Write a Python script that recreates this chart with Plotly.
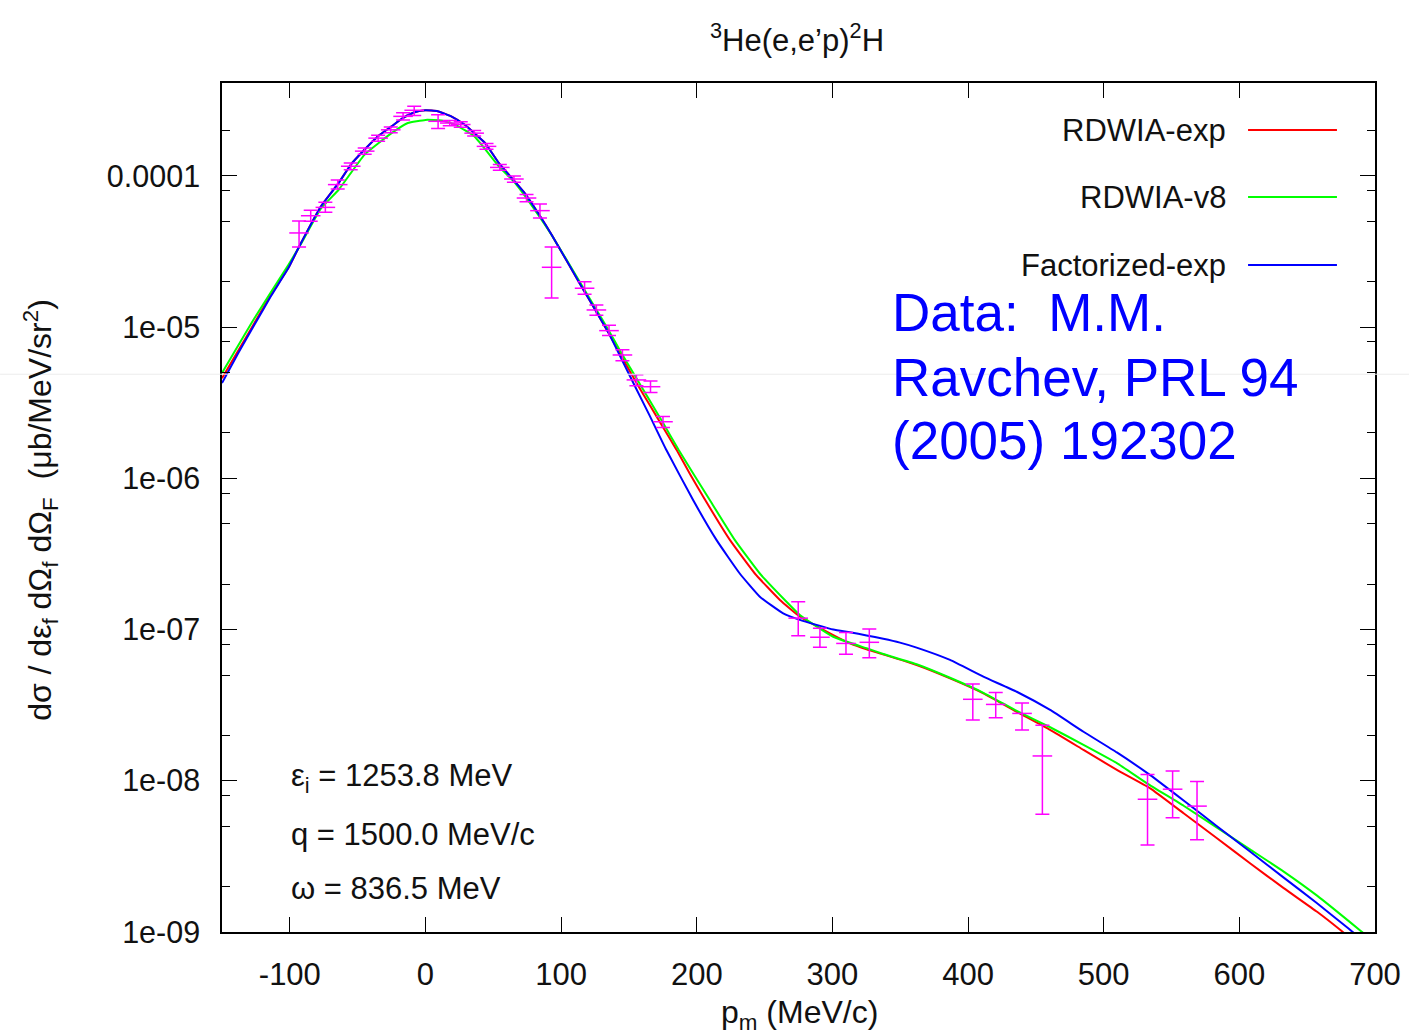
import plotly.graph_objects as go

# ---------------- data ----------------
# Experimental points (p_m in MeV/c, cross section, upper, lower error bar ends)
data_x = [-93.2, -84.6, -73.8, -64.7, -55.1, -44.8, -34.9, -25.6, -16.5, -8.3,
          9.3, 17.9, 26.0, 35.9, 45.0, 54.8, 65.2, 74.5, 84.4, 93.0,
          117.3, 126.0, 135.3, 145.2, 155.5, 165.9, 175.1,
          274.8, 290.8, 310.0, 327.2, 403.5, 420.4, 439.8, 454.8,
          532.3, 550.8, 568.8]
data_y = [4.2e-5, 5.46e-5, 6.2e-5, 8.77e-5, 1.16e-4, 1.46e-4, 1.78e-4, 2.02e-4, 2.48e-4, 2.72e-4,
          2.30e-4, 2.24e-4, 2.19e-4, 1.92e-4, 1.57e-4, 1.14e-4, 9.55e-5, 7.15e-5, 5.9e-5, 2.49e-5,
          1.81e-5, 1.30e-5, 9.49e-6, 6.55e-6, 4.48e-6, 4.04e-6, 2.37e-6,
          1.19e-7, 8.9e-8, 8.1e-8, 8.24e-8, 3.46e-8, 3.2e-8, 2.79e-8, 1.46e-8,
          7.55e-9, 8.8e-9, 6.8e-9]
data_hi = [5.03e-5, 5.93e-5, 6.7e-5, 9.4e-5, 1.22e-4, 1.53e-4, 1.86e-4, 2.11e-4, 2.62e-4, 2.89e-4,
           2.54e-4, 2.33e-4, 2.28e-4, 2.0e-4, 1.64e-4, 1.19e-4, 1.0e-4, 7.55e-5, 6.53e-5, 3.39e-5,
           2.0e-5, 1.40e-5, 1.03e-5, 7.1e-6, 4.85e-6, 4.4e-6, 2.57e-6,
           1.53e-7, 1.02e-7, 9.55e-8, 1.01e-7, 4.36e-8, 3.83e-8, 3.27e-8, 2.33e-8,
           1.10e-8, 1.16e-8, 9.9e-9]
data_lo = [3.39e-5, 5.01e-5, 5.75e-5, 8.2e-5, 1.10e-4, 1.39e-4, 1.70e-4, 1.93e-4, 2.35e-4, 2.51e-4,
           2.06e-4, 2.15e-4, 2.10e-4, 1.84e-4, 1.50e-4, 1.09e-4, 9.1e-5, 6.75e-5, 5.28e-5, 1.56e-5,
           1.65e-5, 1.20e-5, 8.8e-6, 6.0e-6, 4.1e-6, 3.7e-6, 2.17e-6,
           9.1e-8, 7.64e-8, 6.87e-8, 6.52e-8, 2.52e-8, 2.61e-8, 2.17e-8, 6.0e-9,
           3.76e-9, 5.7e-9, 4.07e-9]

# RDWIA-exp (red)
red_x = [-150, -138, -126, -114, -101, -93, -77, -64, -55, -45, -35, -25, -16.5, -8, 0,
         9, 19, 29, 36, 44, 54, 63.5, 73, 83, 93, 115, 125, 135, 145, 155, 165, 175, 185,
         195, 205, 224.4, 242.8, 261.3, 276, 300.6, 312.9, 325.2, 337.5, 362.1,
         386.7, 411.3, 435.9, 460.5, 485.1, 509.7, 534.3, 558.9, 583.5, 608.1,
         632.7, 657.3, 674.5, 690]
red_y = [4.6e-6, 7.0e-6, 1.07e-5, 1.63e-5, 2.47e-5, 3.43e-5, 6.31e-5, 9.0e-5, 1.19e-4, 1.49e-4,
         1.83e-4, 2.13e-4, 2.42e-4, 2.64e-4, 2.72e-4,
         2.68e-4, 2.48e-4, 2.18e-4, 1.92e-4, 1.65e-4, 1.22e-4, 9.7e-5, 7.73e-5, 5.69e-5, 4.09e-5,
         1.86e-5, 1.31e-5, 9.17e-6, 6.31e-6, 4.37e-6, 3.09e-6, 2.19e-6, 1.55e-6,
         1.07e-6, 7.5e-7, 3.92e-7, 2.35e-7, 1.57e-7, 1.22e-7, 9.2e-8, 8.11e-8, 7.4e-8, 6.85e-8, 5.83e-8,
         4.76e-8, 3.79e-8, 2.86e-8, 2.17e-8, 1.60e-8, 1.18e-8, 8.91e-9, 6.10e-9, 4.17e-9, 2.84e-9,
         1.95e-9, 1.36e-9, 1.03e-9, 7.9e-10]

# RDWIA-v8 (green)
green_x = [-150, -126, -101, -93, -77, -64, -45, -25, -13, 0, 12, 22, 36, 54, 66, 83, 93,
           115, 125, 135, 145, 155, 165, 175, 186.7, 209.6, 228, 246.5, 264.9, 276, 300.6,
           325.2, 337.5, 362.1, 386.7, 411.3, 435.9, 460.5, 485.1, 509.7, 531.9, 558.9,
           583.5, 608.1, 632.7, 657.3, 689.3, 700]
green_y = [4.98e-6, 1.15e-5, 2.59e-5, 3.4e-5, 6.1e-5, 8.11e-5, 1.38e-4, 1.92e-4, 2.24e-4, 2.35e-4,
           2.33e-4, 2.18e-4, 1.83e-4, 1.16e-4, 9.0e-5, 5.55e-5, 4.07e-5,
           1.91e-5, 1.35e-5, 9.55e-6, 6.61e-6, 4.68e-6, 3.31e-6, 2.34e-6, 1.54e-6, 7.19e-7, 3.92e-7,
           2.35e-7, 1.57e-7, 1.25e-7, 8.97e-8,
           7.52e-8, 6.9e-8, 5.9e-8, 4.8e-8, 3.82e-8, 2.9e-8, 2.26e-8, 1.73e-8, 1.31e-8, 9.62e-9, 6.84e-9,
           4.90e-9, 3.51e-9, 2.51e-9, 1.74e-9, 1.02e-9, 8.5e-10]

# Factorized-exp (blue)
blue_x = [-150, -138, -126, -114, -101, -93, -77, -64, -55, -45, -35, -25, -16.5, -8, 0,
          9, 19, 29, 36, 44, 54, 63.5, 73, 83, 93, 115, 125, 135, 145, 155, 165,
          177.6, 197.3, 214.5, 231.7, 246.5, 263.7, 276, 300.6, 312.9, 325.2, 337.5, 349.8,
          362.1, 386.7, 411.3, 435.9, 460.5, 485.1, 509.7, 534.3, 558.9, 583.5, 608.1,
          632.7, 657.3, 680.7, 695]
blue_y = [4.27e-6, 6.75e-6, 1.04e-5, 1.60e-5, 2.47e-5, 3.43e-5, 6.31e-5, 9.0e-5, 1.19e-4, 1.49e-4,
          1.83e-4, 2.13e-4, 2.42e-4, 2.64e-4, 2.72e-4,
          2.68e-4, 2.48e-4, 2.18e-4, 1.92e-4, 1.65e-4, 1.22e-4, 9.7e-5, 7.73e-5, 5.69e-5, 4.09e-5,
          1.86e-5, 1.31e-5, 9.17e-6, 6.03e-6, 3.98e-6, 2.63e-6,
          1.54e-6, 7.19e-7, 3.92e-7, 2.35e-7, 1.65e-7, 1.28e-7, 1.16e-7, 1.0e-7, 9.6e-8, 9.15e-8,
          8.7e-8, 8.2e-8,
          7.6e-8, 6.3e-8, 4.88e-8, 3.88e-8, 2.94e-8, 2.11e-8, 1.54e-8, 1.09e-8, 7.41e-9, 5.01e-9, 3.39e-9,
          2.29e-9, 1.55e-9, 1.05e-9, 8.2e-10]

series_names = ["RDWIA-exp", "RDWIA-v8", "Factorized-exp"]
series_colors = ["#ff0000", "#00ff00", "#0000ff"]

x_tickvals = [-100, 0, 100, 200, 300, 400, 500, 600, 700]
x_ticktext = ["-100", "0", "100", "200", "300", "400", "500", "600", "700"]
y_tickvals = [1e-9, 1e-8, 1e-7, 1e-6, 1e-5, 1e-4]
y_ticktext = ["1e-09", "1e-08", "1e-07", "1e-06", "1e-05", "0.0001"]
y_minor_vals = [m * 10.0 ** e for e in range(-9, -3) for m in (2, 5, 8)]

kin_lines = ["ε<sub>i</sub> = 1253.8 MeV", "q = 1500.0 MeV/c", "ω = 836.5 MeV"]
data_ref_lines = ["Data:  M.M.", "Ravchev, PRL 94", "(2005) 192302"]

# ---------------- figure ----------------
FONT = "Liberation Sans, Arial, sans-serif"
TXT = "#111111"
fig = go.Figure()

curves = [(red_x, red_y), (green_x, green_y), (blue_x, blue_y)]
for (cx, cy), name, col in zip(curves, series_names, series_colors):
    fig.add_trace(go.Scatter(x=cx, y=cy, mode="lines", name=name,
                             line=dict(color=col, width=2, shape="spline", smoothing=0.4),
                             showlegend=False, hoverinfo="skip"))

err_plus = [h - y for h, y in zip(data_hi, data_y)]
err_minus = [y - l for y, l in zip(data_y, data_lo)]
fig.add_trace(go.Scatter(
    x=data_x, y=data_y, mode="markers", showlegend=False,
    marker=dict(symbol="line-ew", size=14, color="#ff00ff",
                line=dict(color="#ff00ff", width=1.5)),
    error_y=dict(type="data", array=err_plus, arrayminus=err_minus,
                 color="#ff00ff", thickness=1.5, width=7)))

axis_common = dict(showline=True, linecolor="black", linewidth=1.5, mirror="allticks",
                   ticks="inside", ticklen=15, tickwidth=1.2, tickcolor="black",
                   showgrid=False, zeroline=False)

fig.update_xaxes(range=[-150, 700], tickmode="array", tickvals=x_tickvals,
                 ticktext=x_ticktext, ticklabelstandoff=14,
                 tickfont=dict(family=FONT, size=31, color=TXT), **axis_common)
fig.update_yaxes(type="log", range=[-9, -3.385], tickmode="array", tickvals=y_tickvals,
                 ticktext=y_ticktext, ticklabelstandoff=14,
                 tickfont=dict(family=FONT, size=30.5, color=TXT),
                 minor=dict(tickmode="array", tickvals=y_minor_vals, ticks="inside",
                            ticklen=8, tickwidth=1.2, tickcolor="black", showgrid=False),
                 **axis_common)

annotations = []
# title
annotations.append(dict(x=0.4987, y=1.053, xref="paper", yref="paper",
                        text="<sup>3</sup>He(e,e’p)<sup>2</sup>H", showarrow=False,
                        font=dict(family=FONT, size=31, color=TXT),
                        xanchor="center", yanchor="middle"))
# axis titles
annotations.append(dict(x=-0.158, y=0.497, xref="paper", yref="paper",
                        text="dσ / dε<sub>f</sub> dΩ<sub>f</sub> dΩ<sub>F</sub>  (μb/MeV/sr<sup>2</sup>)",
                        textangle=-90, showarrow=False,
                        font=dict(family=FONT, size=32, color=TXT),
                        xanchor="center", yanchor="middle"))
annotations.append(dict(x=0.501, y=-0.097, xref="paper", yref="paper",
                        text="p<sub>m</sub> (MeV/c)", showarrow=False,
                        font=dict(family=FONT, size=32, color=TXT),
                        xanchor="center", yanchor="middle"))
# legend
leg_y = [0.9446, 0.8657, 0.7856]
shapes = []
for name, col, ly in zip(series_names, series_colors, leg_y):
    annotations.append(dict(x=0.8725, y=ly, xref="paper", yref="paper", text=name,
                            showarrow=False, xanchor="right", yanchor="middle",
                            font=dict(family=FONT, size=31, color=TXT)))
    shapes.append(dict(type="line", xref="paper", yref="paper", x0=0.8899, x1=0.9670,
                       y0=ly, y1=ly, line=dict(color=col, width=2)))
# data reference (blue text)
for txt, dy in zip(data_ref_lines, [0.7291, 0.6537, 0.5795]):
    annotations.append(dict(x=0.5795, y=dy, xref="paper", yref="paper", text=txt,
                            showarrow=False, xanchor="left", yanchor="middle",
                            font=dict(family=FONT, size=53, color="#0000ff")))
# kinematics
for txt, ky in zip(kin_lines, [0.1814, 0.1143, 0.0518]):
    annotations.append(dict(x=0.058, y=ky, xref="paper", yref="paper", text=txt,
                            showarrow=False, xanchor="left", yanchor="middle",
                            font=dict(family=FONT, size=31, color=TXT)))

# faint horizontal artefact line across the page
shapes.append(dict(type="line", xref="paper", yref="paper", x0=-0.1925, x1=1.0295,
                   y0=0.657, y1=0.657, line=dict(color="#ececec", width=1), layer="above"))

fig.update_layout(width=1409, height=1035,
                  margin=dict(l=222, r=34, t=83, b=103, autoexpand=False),
                  paper_bgcolor="white", plot_bgcolor="white",
                  font=dict(family=FONT, color=TXT),
                  annotations=annotations, shapes=shapes, showlegend=False)

fig.write_html("out.html")
